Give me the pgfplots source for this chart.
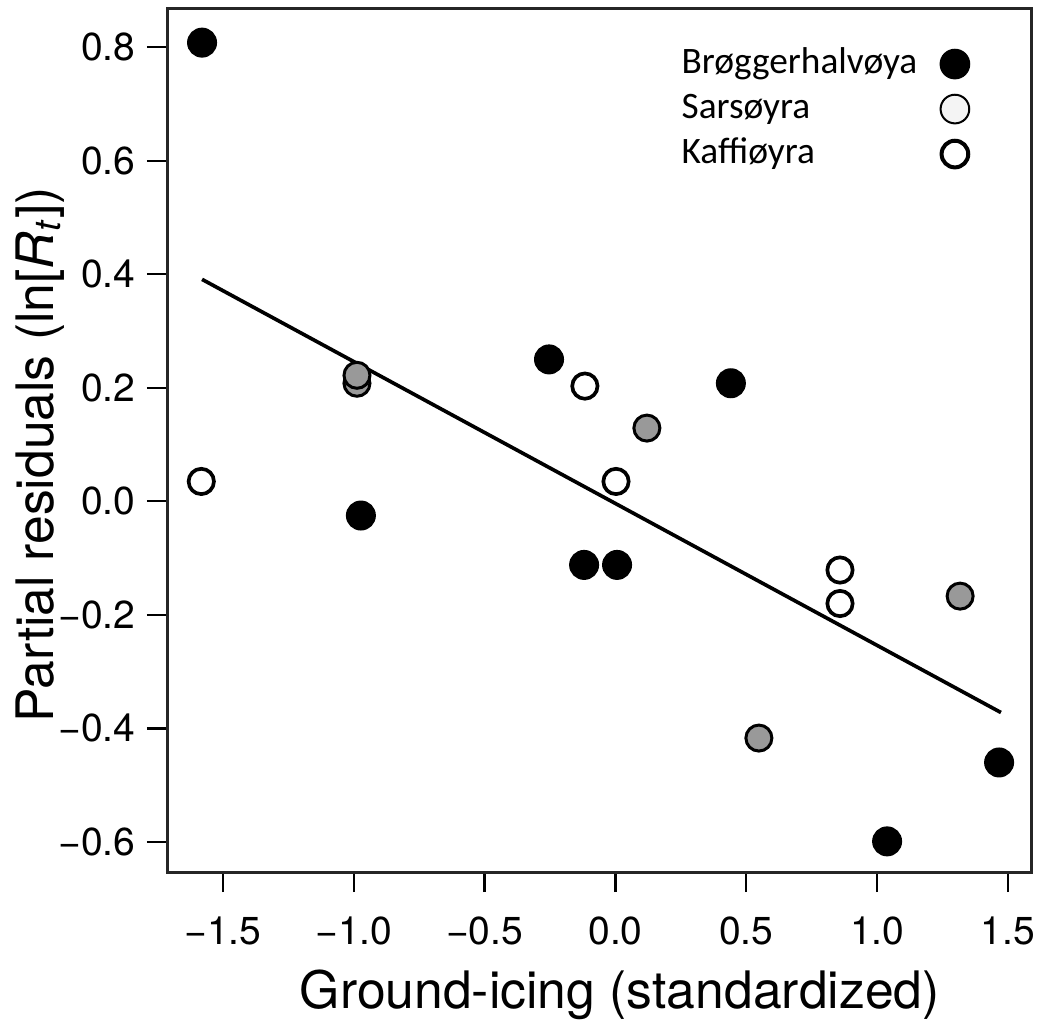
\documentclass[border=0pt]{standalone}
\usepackage{fontspec}
\setmainfont{TeX Gyre Heros}
\newfontfamily\calibri{Carlito}
\usepackage{pgfplots}
\pgfplotsset{compat=1.18}
\definecolor{ptgrey}{RGB}{153,153,153}
\definecolor{lggrey}{RGB}{244,244,244}
\begin{document}
\begin{tikzpicture}
\begin{axis}[
  scale only axis, width=259.2pt, height=259.2pt,
  xmin=-1.714, xmax=1.588, ymin=-0.653, ymax=0.869,
  clip=false,
  axis line style={line width=0.9pt, black!85},
  xtick={-1.5,-1,-0.5,0,0.5,1,1.5},
  xticklabels={−1.5,−1.0,−0.5,0.0,0.5,1.0,1.5},
  ytick={-0.6,-0.4,-0.2,0,0.2,0.4,0.6,0.8},
  yticklabels={−0.6,−0.4,−0.2,0.0,0.2,0.4,0.6,0.8},
  tick align=outside, tick pos=left, major tick length=6pt,
  tick style={line width=0.7pt, black},
  ticklabel style={font=\fontsize{11.7}{14}\selectfont},
  xticklabel style={yshift=-4pt},
  yticklabel style={xshift=0pt},
  xlabel={Ground-icing (standardized)},
  ylabel={Partial residuals (ln[\textit{R}\textsubscript{\textit{t}}])},
  label style={font=\fontsize{15.5}{18}\selectfont},
  xlabel style={at={(axis description cs:0.524,-0.1424)}, anchor=center},
  ylabel style={at={(axis description cs:-0.147,0.483)}, anchor=center, rotate=0},
  legend plot pos=right,
  legend cell align=left,
  legend style={at={(axis description cs:0.591,0.960)}, anchor=north west,
    draw=none, fill=none, inner sep=0pt, row sep=1pt, column sep=3pt,
    nodes={inner sep=1pt, text height=8pt, text depth=2.5pt},
    font=\calibri\fontsize{11.2}{13}\selectfont},
]
\addlegendimage{only marks, mark=*, mark size=4.3pt, mark options={fill=black, draw=black, line width=0.6pt}}
\addlegendentry{\hbox{Brøggerhalvøya\kern3pt}}
\addlegendimage{only marks, mark=*, mark size=4.3pt, mark options={fill=lggrey, draw=black, line width=0.6pt}}
\addlegendentry{Sarsøyra}
\addlegendimage{only marks, mark=*, mark size=4.0pt, mark options={fill=white, draw=black, line width=1.2pt}}
\addlegendentry{Kaffiøyra}

\addplot[forget plot, only marks, mark=*, mark size=3.9pt, mark options={fill=ptgrey, draw=black, line width=0.9pt}]
coordinates {(-0.988,0.208) (-0.988,0.222) (0.120,0.129) (1.317,-0.167) (0.548,-0.417)};
\addplot[forget plot, only marks, mark=*, mark size=3.8pt, mark options={fill=white, draw=black, line width=1.1pt}]
coordinates {(-1.583,0.035) (-0.117,0.203) (0.002,0.035) (0.858,-0.121) (0.858,-0.180)};
\addplot[forget plot, only marks, mark=*, mark size=4.2pt, mark options={fill=black, draw=black, line width=0.6pt}]
coordinates {(-1.580,0.808) (-0.254,0.250) (0.441,0.208) (-0.973,-0.025) (-0.120,-0.112) (0.006,-0.112) (1.466,-0.460) (1.038,-0.599)};
\addplot[forget plot, black, line width=1.1pt] coordinates {(-1.58,0.391) (1.473,-0.372)};
\end{axis}
\pgfresetboundingbox
\path[use as bounding box] ([xshift=-50.1pt,yshift=-47.4pt]current axis.south west) rectangle ([xshift=2.1pt,yshift=2.4pt]current axis.north east);
\end{tikzpicture}
\end{document}
